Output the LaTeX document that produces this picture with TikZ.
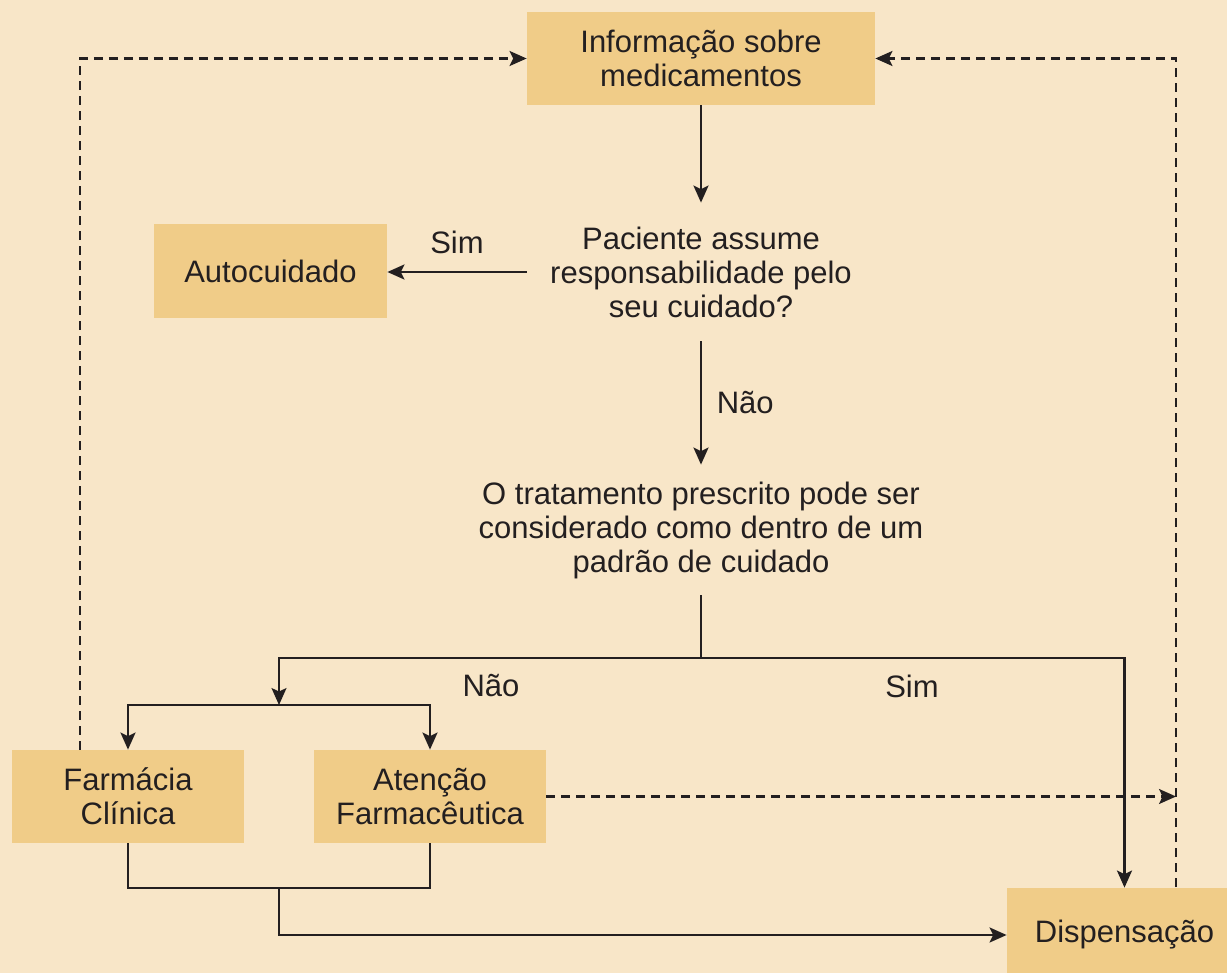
\documentclass[tikz,border=0pt]{standalone}
\usepackage{fontspec}
\setmainfont{Liberation Sans}
\usepackage{tikz}
\usetikzlibrary{calc,arrows.meta}
\definecolor{fundo}{HTML}{F8E6C8}
\definecolor{caixa}{HTML}{F0CC88}
\definecolor{tinta}{HTML}{231F20}
\tikzset{
	caixa/.style={fill=caixa,text=tinta,align=center,minimum width=116pt,minimum height=47pt,inner sep=0pt},
	pergunta/.style={text=tinta,align=center,inner sep=0pt},
	seta/.style={line width=1.1pt,draw=tinta,-{Stealth[length=8.5pt,width=7.5pt,inset=1.8pt]}},
	linha/.style={line width=1.1pt,draw=tinta},
	tracejada/.style={line width=1.1pt,draw=tinta,dash pattern=on 4.5pt off 3pt}
}
\newcommand{\texto}{\fontsize{15.5}{17}\selectfont}

\begin{document}
\begin{tikzpicture}[x=0.5pt,y=-0.5pt,font=\texto]
		\fill[fundo] (0,0) rectangle (1227,973);
		\useasboundingbox (0,0) rectangle (1227,973);
		\clip (0,0) rectangle (1227,973);
		\node[caixa,minimum width=174pt,minimum height=46.5pt] (info) at (701,58.5) {Informação sobre\\medicamentos};
		\node[pergunta,minimum width=174pt,minimum height=69pt] (responsabilidade) at (701,272) {Paciente assume\\responsabilidade pelo\\seu cuidado?};
		\node[caixa,minimum width=116.5pt] (autocuidado) at (270.5,271) {Autocuidado};
		\node[pergunta,minimum width=222pt,minimum height=65pt] (tratamento) at (701,530) {O tratamento prescrito pode ser\\considerado como dentro de um\\padrão de cuidado};
		\node[caixa,minimum height=46.5pt] (farmacia) at (128,796.5) {Farmácia\\Clínica};
		\node[caixa,minimum height=46.5pt] (atencao) at (430,796.5) {Atenção\\Farmacêutica};
		\node[caixa,minimum width=117.5pt] (dispensacao) at (1124.5,935) {Dispensação};
		\coordinate (divisao) at (701,658);
		\coordinate (ramo) at (279,705);
		\coordinate (juncao) at (279,888);
		\coordinate (retorno) at (1176,887);
		\draw[seta] (info) -- (responsabilidade);
		\draw[seta] (responsabilidade.west) -- (responsabilidade.west -| autocuidado.east) node[midway,above=5pt,text=tinta] {Sim};
		\draw[seta] (responsabilidade) -- (tratamento) node[midway,right=4pt,text=tinta] {Não};
		\draw[linha] (tratamento.south) -- (divisao);
		\draw[seta] (divisao) -| (ramo);
		\draw[seta] (divisao) -| (dispensacao.north);
		\node[text=tinta] (nao) at (491,686) {Não};
		\node[text=tinta] (sim) at (912,686) {Sim};
		\draw[seta] (ramo) -| (farmacia.north);
		\draw[seta] (ramo) -| (atencao.north);
		\draw[linha] (farmacia.south) |- (juncao) -| (atencao.south);
		\draw[seta] (juncao) |- (dispensacao.west);
		\draw[tracejada,seta] ([xshift=-24pt]farmacia.north) |- (info.west);
		\draw[tracejada,seta] (retorno) |- (info.east);
		\draw[tracejada,seta] (atencao.east) -- (atencao.east -| retorno);
	\end{tikzpicture}
\end{document}
